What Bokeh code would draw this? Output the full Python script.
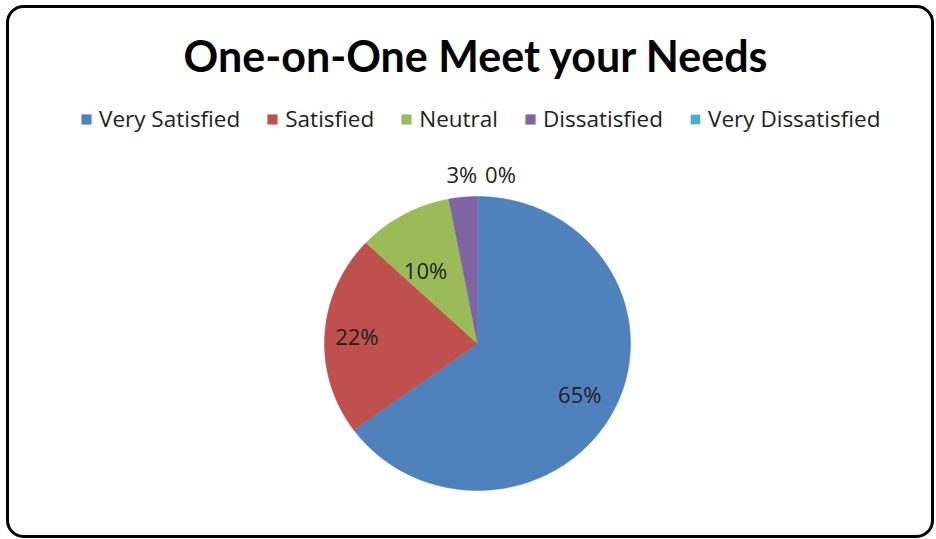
import numpy as np
from bokeh.plotting import figure
from bokeh.models import Range1d, Legend, LegendItem, ColumnDataSource, BoxAnnotation, Label
from bokeh.core.properties import value
from bokeh.embed import file_html
from bokeh.resources import INLINE

# ---- data ----
title_text = "One-on-One Meet your Needs"
categories = ["Very Satisfied", "Satisfied", "Neutral", "Dissatisfied", "Very Dissatisfied"]
percents = [65, 22, 10, 3, 0]
colors = ["#4F81BD", "#C0504D", "#9BBB59", "#8064A2", "#4BACC6"]
labels = ["65%", "22%", "10%", "3%", "0%"]

# ---- layout / style ----
W, H = 934, 538
CX, CY = 477, 343          # pixel centre of the pie
RX, RY = 153, 147          # pie radii (px)
label_r = [0.75, 0.79, 0.57, 1.155, 1.155]
label_dx = [0, 0, -10, 1, 23]
TFONT = "Lato"
FONT = "Open Sans"

p = figure(width=W, height=H, output_backend="svg", toolbar_location=None,
           x_range=Range1d(0, W), y_range=Range1d(H, 0),
           min_border=0, background_fill_color="white", border_fill_color="white")
p.axis.visible = False
p.grid.visible = False
p.outline_line_color = None

# rounded chart border
p.add_layout(BoxAnnotation(left=7, right=932, top=6, bottom=536, fill_alpha=0,
                           line_color="black", line_alpha=1, line_width=3, border_radius=16))

total = float(sum(percents))
fracs = np.array(percents) / total
starts = np.concatenate([[0], np.cumsum(fracs)[:-1]]) * 2 * np.pi
ends = np.cumsum(fracs) * 2 * np.pi

items = []
for i, cat in enumerate(categories):
    a0, a1 = starts[i], ends[i]
    n = max(2, int(np.ceil((a1 - a0) / 0.01)))
    th = np.linspace(a0, a1, n)
    xs = np.concatenate([[CX], CX + RX * np.sin(th)])
    ys = np.concatenate([[CY], CY - RY * np.cos(th)])
    r = p.patch(xs, ys, fill_color=colors[i], line_color=colors[i] if a1 > a0 else None,
                line_width=0.5)
    items.append(LegendItem(label=cat, renderers=[r]))

# data labels
mid = (starts + ends) / 2
lx = CX + RX * np.array(label_r) * np.sin(mid) + np.array(label_dx)
ly = CY - RY * np.array(label_r) * np.cos(mid)
src = ColumnDataSource(dict(x=lx, y=ly, t=labels))
p.text(x="x", y="y", text="t", source=src, text_align="center", text_baseline="middle",
       text_font=value(FONT), text_font_size="22px", text_color="#222222")

# title
p.add_layout(Label(x=476, y=55, text=title_text, text_align="center", text_baseline="middle",
                   text_font=TFONT, text_font_size="43px", text_font_style="bold",
                   text_color="black"))

legend = Legend(items=items, orientation="horizontal", location=(80, 404),
                glyph_width=12, glyph_height=12, label_text_font=FONT,
                label_text_font_size="22.5px", label_text_color="#222222",
                spacing=26, padding=0, margin=0, label_standoff=7,
                border_line_color=None, background_fill_alpha=0)
p.add_layout(legend, "center")

open("out.html", "w").write(file_html(p, INLINE))
